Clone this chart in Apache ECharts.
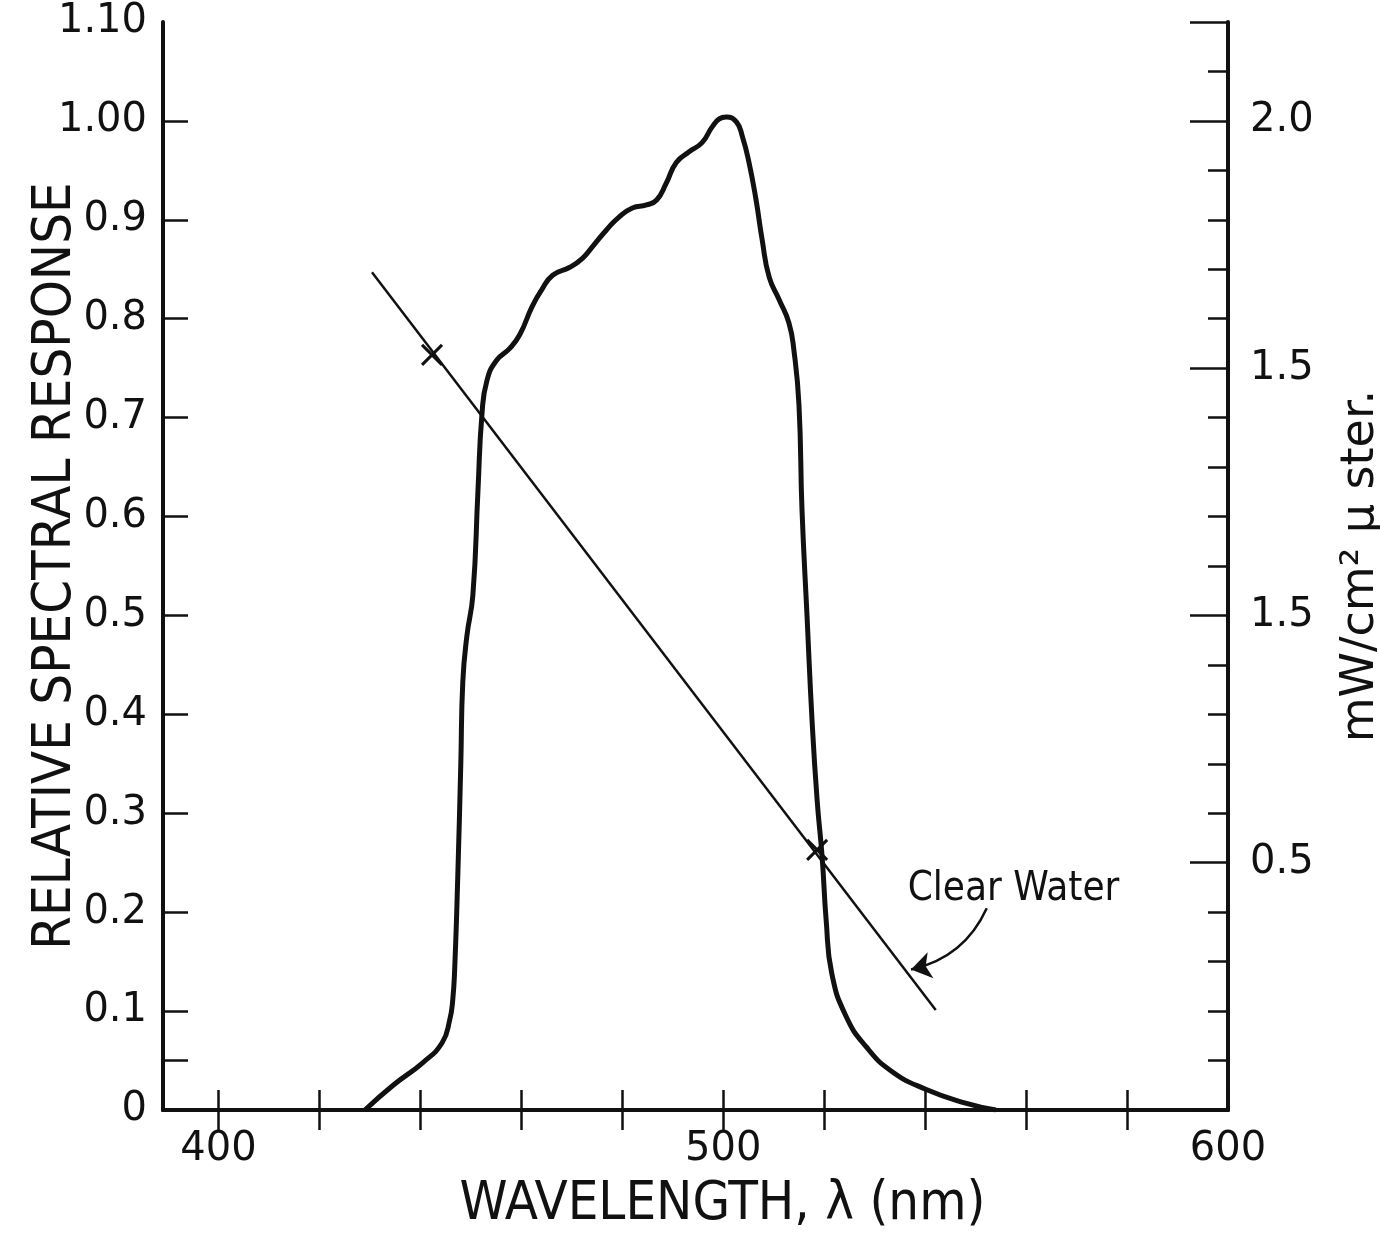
<!DOCTYPE html>
<html lang="en">
<head>
    <meta charset="utf-8">
    <script src="https://cdn.jsdelivr.net/npm/echarts@6/dist/echarts.min.js"></script>
    <style>
        html,
        body {
            width: 100%;
            height: 100%;
            margin: 0;
            background: #fff;
            overflow: hidden;
        }

        #chart {
            width: 1380px;
            height: 1236px;
        }
    </style>
</head>
<body>
<div id="chart"></div>
<script>
    // relative spectral response (thick curve)
    var respNm = [429.0, 434.6, 440.5, 444.3, 445.8, 446.4, 446.8, 447.4, 448.0, 448.4,
        449.2, 450.4, 451.4, 452.2, 453.2, 455.1, 457.7, 459.7, 462.1, 464.0,
        466.2, 469.6, 472.1, 474.1, 476.9, 479.4, 482.0, 484.8, 486.8, 488.7,
        490.7, 493.3, 495.8, 497.8, 499.2, 500.6, 502.6, 503.8, 505.1, 506.5,
        507.7, 509.1, 511.1, 513.0, 514.0, 515.0, 515.6, 516.6, 517.6, 518.6,
        519.6, 520.4, 521.5, 524.3, 528.3, 533.4, 540.1, 548.0, 554.0];
    var respVal = [0.000, 0.025, 0.048, 0.068, 0.091, 0.111, 0.144, 0.236, 0.350, 0.433,
        0.479, 0.521, 0.626, 0.704, 0.738, 0.758, 0.770, 0.784, 0.812, 0.829,
        0.844, 0.852, 0.861, 0.873, 0.890, 0.903, 0.912, 0.915, 0.920, 0.937,
        0.958, 0.969, 0.978, 0.994, 1.002, 1.004, 0.999, 0.984, 0.958, 0.920,
        0.880, 0.842, 0.819, 0.796, 0.768, 0.713, 0.607, 0.499, 0.393, 0.313,
        0.255, 0.191, 0.138, 0.095, 0.064, 0.039, 0.021, 0.007, 0.000];

    // clear water radiance line (right axis, mW/cm2 u ster)
    var waterNm = [430.4, 542.1];
    var waterVal = [1.694, 0.202];
    var waterMarkNm = [442.3, 518.6];
    var waterMarkVal = [1.527, 0.526];

    // annotation
    var noteText = 'Clear Water';
    var notePos = [557.5, 0.445];
    var arrowFrom = [552.2, 0.408];
    var arrowTo = [537.2, 0.284];

    // axes
    var xTicks = [400, 420, 440, 460, 480, 500, 520, 540, 560, 580, 600];
    var xLabels = [400, 500, 600];
    var leftTicks = [0.05, 0.1, 0.2, 0.3, 0.4, 0.5, 0.6, 0.7, 0.8, 0.9, 1.0];
    var leftLabels = ['0', '0.1', '0.2', '0.3', '0.4', '0.5', '0.6', '0.7', '0.8', '0.9', '1.00', '1.10'];
    var rightLabelValues = [0.5, 1.0, 1.5, 2.0];
    var rightLabels = ['0.5', '1.5', '1.5', '2.0'];

    var ink = '#111';
    var font = 'DejaVu Sans';
    var titleFont = '"DejaVu Sans Condensed", "DejaVu Sans"';

    function pairs(xs, ys) {
        var out = [];
        for (var i = 0; i < xs.length; i++) {
            out.push([xs[i], ys[i]]);
        }
        return out;
    }

    var chart = echarts.init(document.getElementById('chart'), null, {renderer: 'canvas'});

    var option = {
        backgroundColor: '#fff',
        animation: false,
        grid: {left: 163, right: 152, top: 22, bottom: 126, containLabel: false, outerBoundsMode: 'none'},
        xAxis: [
            {
                type: 'value',
                min: 389,
                max: 600,
                name: 'WAVELENGTH, λ (nm)',
                nameLocation: 'middle',
                nameGap: 68,
                nameMoveOverlap: false,
                nameTextStyle: {fontFamily: titleFont, fontSize: 54, color: ink, padding: [0, 0, 0, 54]},
                axisLine: {lineStyle: {color: ink, width: 4}},
                axisTick: {inside: true, length: 20, customValues: xTicks, lineStyle: {color: ink, width: 2.5}},
                axisLabel: {customValues: xLabels, margin: 20, fontFamily: font, fontSize: 40, color: ink},
                splitLine: {show: false}
            },
            {
                type: 'value',
                position: 'top',
                min: 389,
                max: 600,
                axisLine: {lineStyle: {color: ink, width: 4}},
                axisTick: {inside: true, length: 20, customValues: xTicks.slice(0, 10), lineStyle: {color: ink, width: 2.5}},
                axisLabel: {show: false},
                splitLine: {show: false}
            }
        ],
        yAxis: [
            {
                type: 'value',
                min: 0,
                max: 1.1,
                interval: 0.1,
                name: 'RELATIVE SPECTRAL RESPONSE',
                nameLocation: 'middle',
                nameGap: 80,
                nameMoveOverlap: false,
                nameTextStyle: {fontFamily: titleFont, fontSize: 54, color: ink},
                axisLine: {show: true, lineStyle: {color: ink, width: 4}},
                axisTick: {show: true, inside: true, length: 25, customValues: leftTicks, lineStyle: {color: ink, width: 2.5}},
                axisLabel: {
                    margin: 16,
                    fontFamily: font,
                    fontSize: 40,
                    color: ink,
                    formatter: function (v) {
                        return leftLabels[Math.round(v * 10)];
                    }
                },
                splitLine: {show: false}
            },
            {
                type: 'value',
                position: 'right',
                min: 0,
                max: 2.2,
                interval: 0.5,
                name: 'mW/cm² μ ster.',
                nameLocation: 'middle',
                nameRotate: 90,
                nameGap: 110,
                nameMoveOverlap: false,
                nameTextStyle: {fontFamily: font, fontSize: 46, color: ink},
                axisLine: {show: true, lineStyle: {color: ink, width: 4}},
                axisTick: {show: true, inside: true, length: 38, lineStyle: {color: ink, width: 2.5}},
                minorTick: {show: true, splitNumber: 5, length: 20, lineStyle: {color: ink, width: 2.5}},
                axisLabel: {
                    customValues: rightLabelValues,
                    margin: 22,
                    fontFamily: font,
                    fontSize: 40,
                    color: ink,
                    formatter: function (v) {
                        return rightLabels[rightLabelValues.indexOf(Math.round(v * 10) / 10)];
                    }
                },
                splitLine: {show: false}
            }
        ],
        series: [
            {
                name: 'response',
                type: 'line',
                data: pairs(respNm, respVal),
                smooth: 0.5,
                symbol: 'none',
                lineStyle: {color: ink, width: 5}
            },
            {
                name: 'clear water',
                type: 'line',
                yAxisIndex: 1,
                data: pairs(waterNm, waterVal),
                symbol: 'none',
                lineStyle: {color: ink, width: 2.5}
            },
            {
                name: 'water marks',
                type: 'scatter',
                yAxisIndex: 1,
                data: pairs(waterMarkNm, waterMarkVal),
                symbol: 'path://M0,0L10,10M10,0L0,10',
                symbolSize: 20,
                itemStyle: {color: 'none', borderColor: ink, borderWidth: 3, opacity: 1}
            },
            {
                name: 'arrow',
                type: 'lines',
                coordinateSystem: 'cartesian2d',
                yAxisIndex: 1,
                data: [{coords: [arrowFrom, arrowTo]}],
                symbol: ['none', 'arrow'],
                symbolSize: 20,
                lineStyle: {color: ink, width: 2.5, curveness: 0.25, opacity: 1}
            },
            {
                name: 'note',
                type: 'scatter',
                yAxisIndex: 1,
                data: [notePos],
                symbolSize: 0,
                itemStyle: {opacity: 1},
                label: {
                    show: true,
                    position: 'inside',
                    formatter: noteText,
                    fontFamily: titleFont,
                    fontSize: 40,
                    color: ink
                }
            }
        ]
    };

    chart.setOption(option);
</script>
</body>
</html>
